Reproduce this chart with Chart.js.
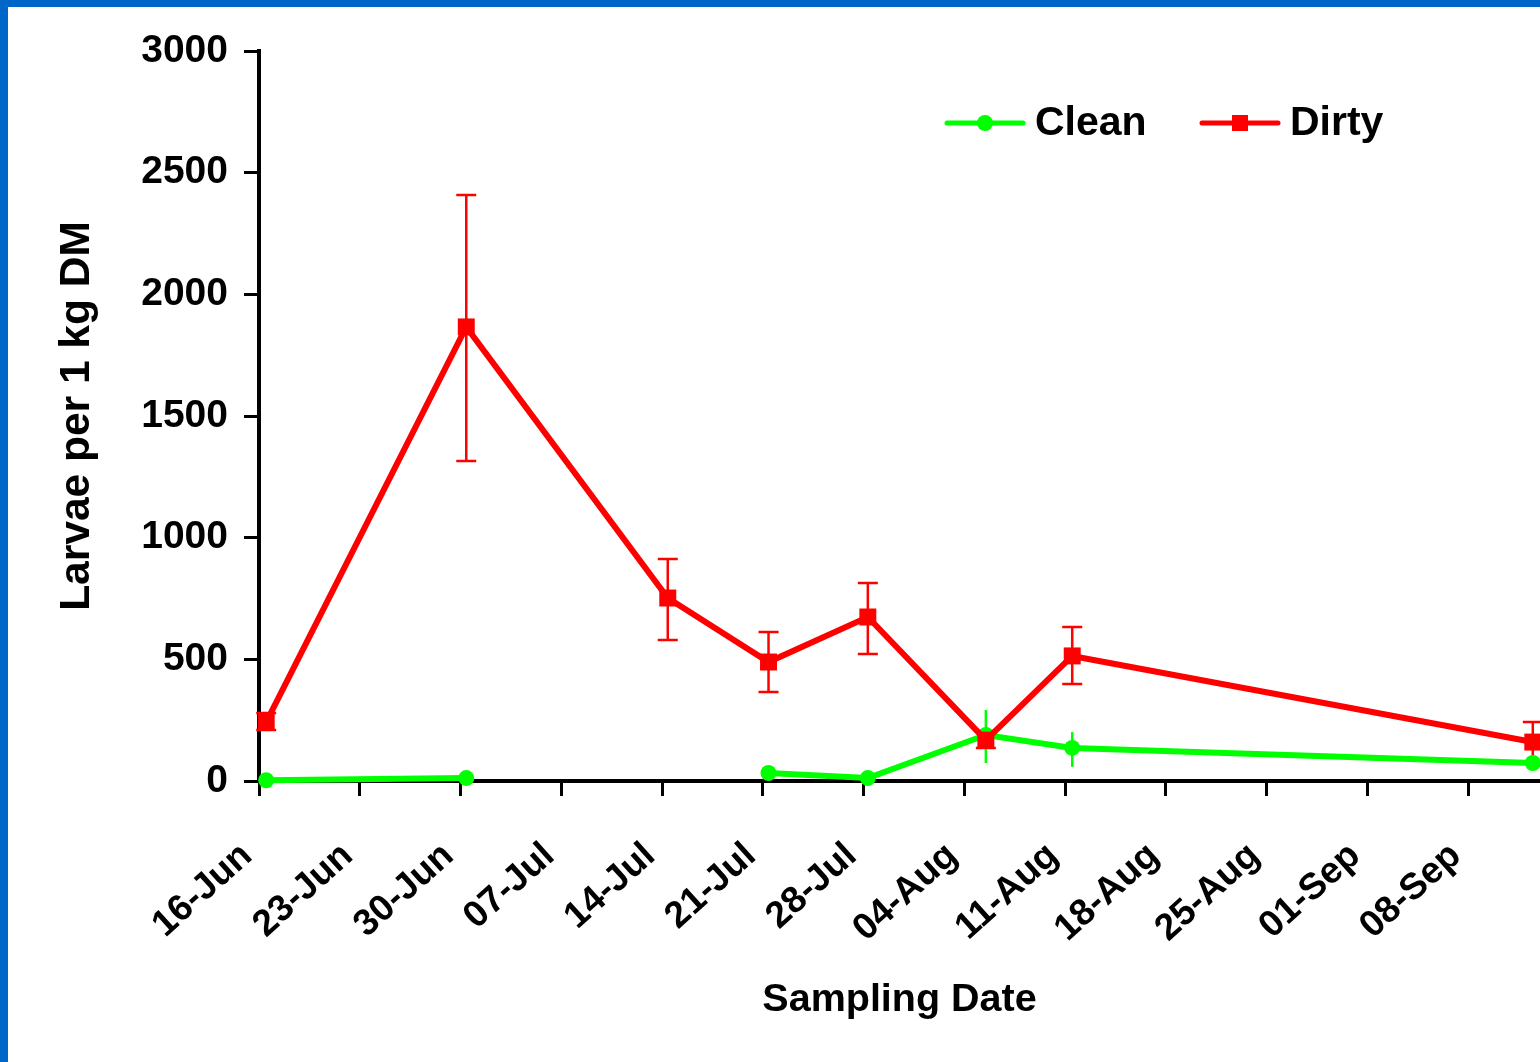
<!DOCTYPE html>
<html>
<head>
<meta charset="utf-8">
<script src="https://cdn.jsdelivr.net/npm/chart.js@4/dist/chart.umd.min.js"></script>
<style>
  html, body { margin: 0; padding: 0; background: #fff; }
  #frame {
    position: absolute; left: 0; top: 0;
    width: 1532px; height: 1055px;
    border-top: 7px solid #0066c8;
    border-left: 8px solid #0066c8;
    background: #fff;
  }
  canvas { display: block; }
</style>
</head>
<body>
<div id="frame"><canvas id="myChart" width="1532" height="1055"></canvas></div>
<script>
// days after 16-Jun when the samples were taken
var sampleDays = [0.5, 14.4, 28.4, 35.4, 42.3, 50.5, 56.5, 88.5];

var dirty      = [242, 1866, 752, 489, 674, 168, 514, 160];
var dirtyUpper = [279, 2408, 912, 612, 814, 201, 633, 242];
var dirtyLower = [210, 1315, 579, 366, 522, 136, 399, 80];

var clean      = [3, 12, null, 33, 12, 189, 136, 74];
var cleanUpper = [null, null, null, null, null, 292, 201, null];
var cleanLower = [null, null, null, null, null, 74, 58, null];

var weekLabels = ['16-Jun', '23-Jun', '30-Jun', '07-Jul', '14-Jul', '21-Jul', '28-Jul',
                  '04-Aug', '11-Aug', '18-Aug', '25-Aug', '01-Sep', '08-Sep'];

var FONT = "'Liberation Sans', Arial, sans-serif";

function toPoints(values) {
    return sampleDays.map(function(d, i) { return { x: d, y: values[i] }; });
}

// vertical error bars, drawn under the markers
var errorBars = {
    id: 'errorBars',
    beforeDatasetsDraw: function(chart) {
        var ctx = chart.ctx;
        var xs = chart.scales.x, ys = chart.scales.y;
        var sets = [
            { up: cleanUpper, lo: cleanLower, color: '#00ff00', cap: 0 },
            { up: dirtyUpper, lo: dirtyLower, color: '#ff0000', cap: 10 }
        ];
        ctx.save();
        sets.forEach(function(s) {
            ctx.strokeStyle = s.color;
            ctx.lineWidth = 2.5;
            for (var i = 0; i < sampleDays.length; i++) {
                if (s.up[i] == null) continue;
                var px = xs.getPixelForValue(sampleDays[i]);
                var y1 = ys.getPixelForValue(s.up[i]);
                var y2 = ys.getPixelForValue(s.lo[i]);
                ctx.beginPath();
                ctx.moveTo(px, y1); ctx.lineTo(px, y2);
                if (s.cap) {
                    ctx.moveTo(px - s.cap, y1); ctx.lineTo(px + s.cap, y1);
                    ctx.moveTo(px - s.cap, y2); ctx.lineTo(px + s.cap, y2);
                }
                ctx.stroke();
            }
        });
        ctx.restore();
    }
};

// legend in the top right of the plot, line + marker + label
var lineLegend = {
    id: 'lineLegend',
    afterDraw: function(chart) {
        var ctx = chart.ctx;
        var y = 116;
        var items = [
            { x: 939, label: 'Clean', color: '#00ff00', square: false },
            { x: 1194, label: 'Dirty', color: '#ff0000', square: true }
        ];
        ctx.save();
        items.forEach(function(it) {
            ctx.strokeStyle = it.color;
            ctx.fillStyle = it.color;
            ctx.lineWidth = 5;
            ctx.lineCap = 'round';
            ctx.beginPath();
            ctx.moveTo(it.x, y); ctx.lineTo(it.x + 76, y);
            ctx.stroke();
            if (it.square) {
                ctx.fillRect(it.x + 38 - 8, y - 8, 16, 16);
            } else {
                ctx.beginPath();
                ctx.arc(it.x + 38, y, 8, 0, Math.PI * 2);
                ctx.fill();
            }
            ctx.fillStyle = '#000';
            ctx.font = 'bold 41px ' + FONT;
            ctx.textBaseline = 'middle';
            ctx.fillText(it.label, it.x + 88, y + 1);
        });
        ctx.restore();
    }
};

var ctx = document.getElementById('myChart').getContext('2d');
var chart = new Chart(ctx, {
    type: 'line',
    data: {
        datasets: [{
            label: 'Dirty',
            data: toPoints(dirty),
            borderColor: '#ff0000',
            backgroundColor: '#ff0000',
            borderWidth: 6,
            pointStyle: 'rect',
            pointRadius: 12,
            pointBorderWidth: 0,
            clip: false,
            order: 0
        }, {
            label: 'Clean',
            data: toPoints(clean),
            borderColor: '#00ff00',
            backgroundColor: '#00ff00',
            borderWidth: 6,
            pointStyle: 'circle',
            pointRadius: 8,
            pointBorderWidth: 0,
            spanGaps: false,
            clip: false,
            order: 1
        }]
    },
    options: {
        responsive: false,
        animation: false,
        devicePixelRatio: 1,
        layout: { autoPadding: false, padding: { top: 44, right: 0, left: 0, bottom: 0 } },
        plugins: {
            legend: { display: false },
            tooltip: { enabled: false }
        },
        scales: {
            x: {
                type: 'linear',
                min: 0,
                max: 89.0,
                afterFit: function(scale) {
                    scale.height = 281;
                    scale.paddingLeft = 0;
                    scale.paddingRight = 0;
                },
                border: { color: '#000', width: 4 },
                grid: { drawOnChartArea: false, color: '#000', lineWidth: 3, tickLength: 15 },
                ticks: {
                    stepSize: 7,
                    includeBounds: false,
                    autoSkip: false,
                    minRotation: 42,
                    maxRotation: 42,
                    padding: 38,
                    labelOffset: -12,
                    color: '#000',
                    font: { family: FONT, size: 37, weight: 'bold' },
                    callback: function(v) {
                        return v % 7 === 0 ? weekLabels[v / 7] : '';
                    }
                },
                title: {
                    display: true,
                    text: 'Sampling Date',
                    color: '#000',
                    font: { family: FONT, size: 39.5, weight: 'bold' },
                    padding: { top: 0, bottom: 38 }
                }
            },
            y: {
                min: 0,
                max: 3000,
                afterFit: function(scale) { scale.width = 251; },
                border: { color: '#000', width: 4 },
                grid: { drawOnChartArea: false, color: '#000', lineWidth: 3, tickLength: 15 },
                ticks: {
                    stepSize: 500,
                    padding: 16,
                    color: '#000',
                    font: { family: FONT, size: 39, weight: 'bold' },
                    callback: function(v) { return String(v); }
                },
                title: {
                    display: true,
                    text: 'Larvae per 1 kg DM',
                    color: '#000',
                    font: { family: FONT, size: 42.5, weight: 'bold' },
                    padding: { top: 44, bottom: 0 }
                }
            }
        }
    },
    plugins: [errorBars, lineLegend]
});
</script>
</body>
</html>
